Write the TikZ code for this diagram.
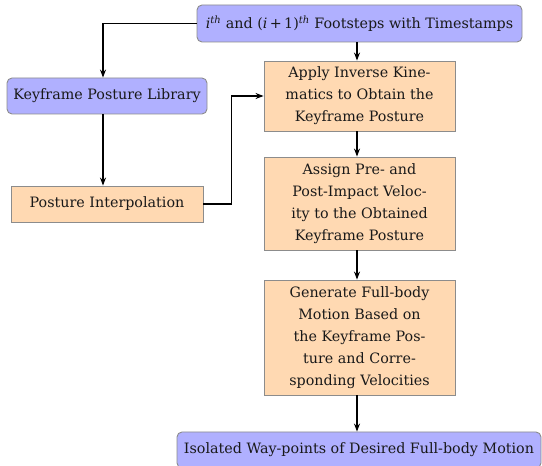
\documentclass[tikz,border=0pt]{standalone}
\usepackage{fontspec}
\setmainfont{DejaVu Serif}
\usetikzlibrary{arrows.meta}
\definecolor{boxblue}{RGB}{176,176,255}
\definecolor{boxorange}{RGB}{255,217,178}
\tikzset{
  base/.style={draw=black!45, line width=0.9pt, inner sep=2pt, align=center, text=black!90, font=\fontsize{14.3}{22}\selectfont},
  bluebox/.style={base, fill=boxblue, rounded corners=5pt},
  orangebox/.style={base, fill=boxorange},
  conn/.style={draw=black, line width=1.1pt, -{Stealth[length=8pt,width=6pt]}}
}
\newcommand{\ith}[1]{\textit{#1}\textsuperscript{\textit{th}}}
\begin{document}
\begin{tikzpicture}[x=1pt,y=1pt]
\useasboundingbox (0,0) rectangle (542,466);
\node[bluebox, minimum width=325, minimum height=37] (top) at (359.5,442.5)
  {\ith{i} and (\textit{i}\,+\,1)\textsuperscript{\textit{th}} Footsteps with Timestamps};
\node[bluebox, minimum width=200, minimum height=36] (kf) at (107,370) {Keyframe Posture Library};
\node[orangebox, minimum width=192, minimum height=36] (pi) at (107,262) {Posture Interpolation};
\node[orangebox, minimum width=191, minimum height=70] (ik) at (359.5,370)
  {Apply Inverse Kine-\\matics to Obtain the\\Keyframe Posture};
\node[orangebox, minimum width=191, minimum height=93] (as) at (359.5,262.5)
  {Assign Pre- and\\Post-Impact Veloc-\\ity to the Obtained\\Keyframe Posture};
\node[orangebox, minimum width=191, minimum height=115] (gen) at (359.5,128.5)
  {Generate Full-body\\Motion Based on\\the Keyframe Pos-\\ture and Corre-\\sponding Velocities};
\node[bluebox, minimum width=364, minimum height=36] (out) at (359,16)
  {Isolated Way-points of Desired Full-body Motion};
\draw[conn] (top.west) -| ([xshift=-4pt]kf.north);
\draw[conn] ([xshift=-4pt]kf.south) -- ([xshift=-4pt]pi.north);
\draw[conn] (pi.east) -- ++(28,0) |- (ik.west);
\draw[conn] ([xshift=-2.5pt]top.south) -- ([xshift=-2.5pt]ik.north);
\draw[conn] ([xshift=-2.5pt]ik.south) -- ([xshift=-2.5pt]as.north);
\draw[conn] ([xshift=-2.5pt]as.south) -- ([xshift=-2.5pt]gen.north);
\draw[conn] ([xshift=-2.5pt]gen.south) -- ([xshift=-2pt]out.north);
\end{tikzpicture}
\end{document}
